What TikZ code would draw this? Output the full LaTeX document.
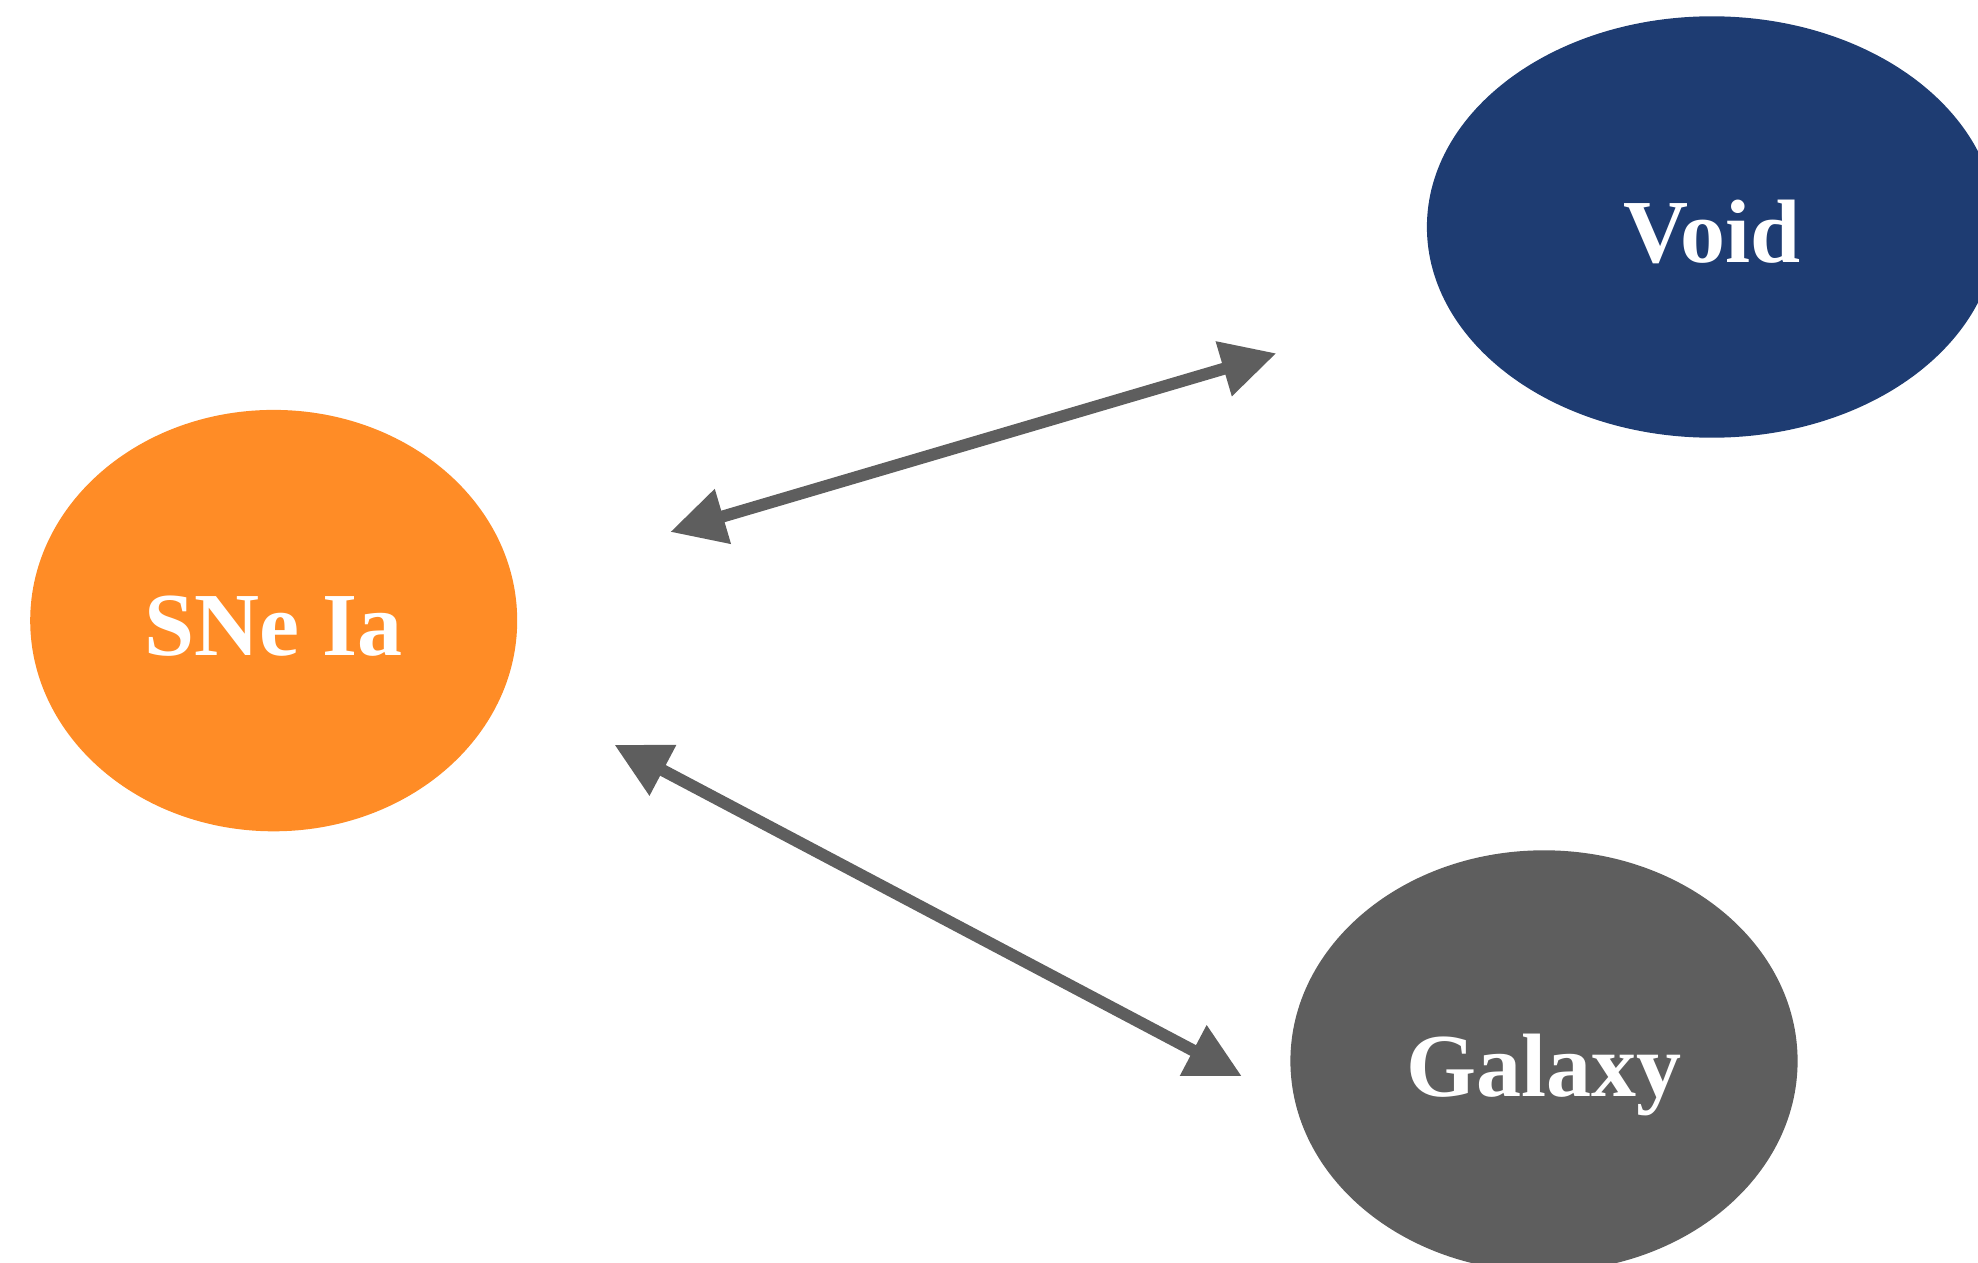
\documentclass[tikz,border=0pt]{standalone}
\usepackage{fontspec}
\setmainfont{Liberation Serif}[BoldFont={Liberation Serif Bold}]
\usetikzlibrary{arrows.meta,shapes.geometric}
\definecolor{cOrange}{HTML}{FF8C26}
\definecolor{cNavy}{HTML}{1E3C72}
\definecolor{cGray}{HTML}{5E5E5E}
\tikzset{
  blob/.style={ellipse, inner sep=0pt, outer sep=0pt, text=white,
    text height=70pt, text depth=0pt,
    font=\bfseries\fontsize{90}{100}\selectfont},
  conn/.style={draw=cGray, line width=12pt,
    {Triangle[length=55pt,width=54pt]}-{Triangle[length=55pt,width=54pt]}}
}
\begin{document}
\begin{tikzpicture}[x=1pt,y=-1pt]
\useasboundingbox (0,0) rectangle (1978,1263);
\begin{scope}
\clip (0,0) rectangle (1978,1263);
\node[blob, fill=cOrange, minimum width=487pt, minimum height=421.4pt] (sne) at (273.7,620.6) {SNe Ia};
\node[blob, fill=cNavy, minimum width=570pt, minimum height=421.4pt] (void) at (1711.9,227) {Void};
\node[blob, fill=cGray, minimum width=507.2pt, minimum height=421.4pt] (gal) at (1544,1061) {Galaxy};
\end{scope}
\draw[conn, shorten <=164.6pt, shorten >=177pt] (sne.10.7) -- (void.196.2);
\draw[conn, shorten <=123.8pt, shorten >=61.2pt] (sne.344.2) -- (gal.190.6);
\end{tikzpicture}
\end{document}
